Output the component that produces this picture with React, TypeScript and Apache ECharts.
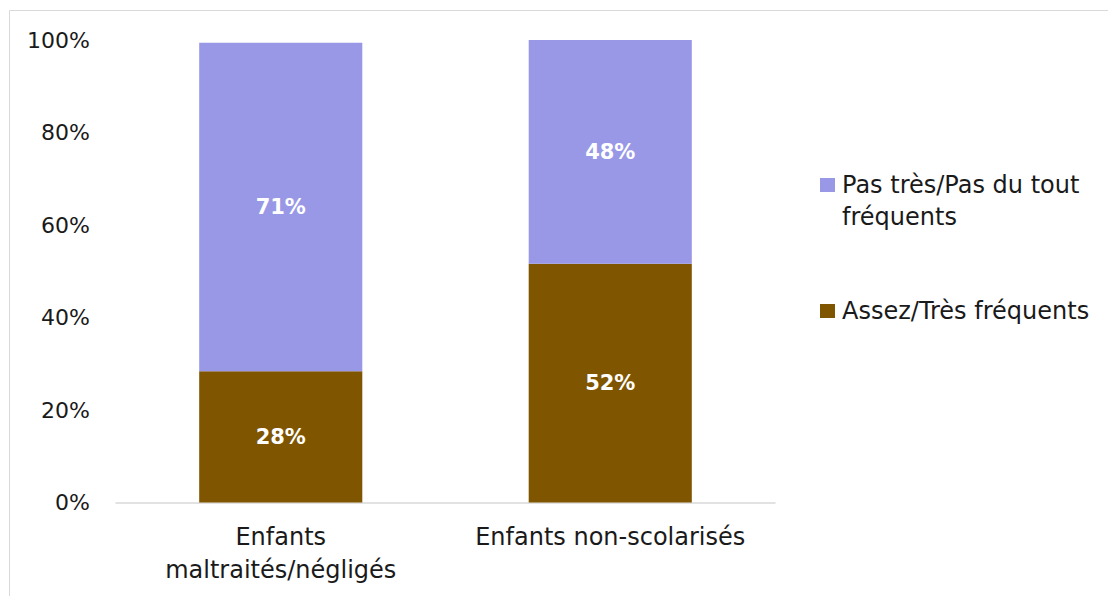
import React, { useEffect, useRef } from "react";
import * as echarts from "echarts";

const categories = ["Enfants\nmaltraités/négligés", "Enfants non-scolarisés"];
const seriesNames = ["Assez/Très fréquents", "Pas très/Pas du tout fréquents"];
const assezValues = [28.4, 51.6];
const pasValues = [71.0, 48.4];
const yTicks = [0, 20, 40, 60, 80, 100];
const colors = ["#7F5500", "#9898E6"];

const FONT = "DejaVu Sans";

export default function App() {
  const ref = useRef<HTMLDivElement>(null);
  useEffect(() => {
    if (!ref.current) return;
    const chart = echarts.init(ref.current, undefined, { renderer: "svg" });
    const labelCfg = {
      show: true,
      position: "inside",
      color: "#fff",
      fontWeight: "bold",
      fontSize: 21,
      fontFamily: FONT,
      padding: [6, 0, 0, 0],
      formatter: (p: any) => Math.round(p.value) + "%",
    };
    chart.setOption({
      animation: false,
      backgroundColor: "#fff",
      textStyle: { fontFamily: FONT },
      graphic: [
        {
          type: "rect",
          shape: { x: 9.5, y: 10.5, width: 1200, height: 700 },
          style: { fill: "none", stroke: "#d9d9d9", lineWidth: 1 },
          silent: true,
          z: -1,
        },
      ],
      grid: { left: 116, right: 333, top: 40, bottom: 93.5, containLabel: false },
      xAxis: {
        type: "category",
        data: categories,
        axisLine: { show: true, lineStyle: { color: "#d9d9d9", width: 1.5 } },
        axisTick: { show: false },
        axisLabel: {
          color: "#1a1a1a",
          fontSize: 24,
          fontFamily: FONT,
          lineHeight: 33,
          margin: 18,
          interval: 0,
        },
      },
      yAxis: {
        type: "value",
        min: yTicks[0],
        max: yTicks[yTicks.length - 1],
        interval: 20,
        splitLine: { show: false },
        axisLine: { show: false },
        axisTick: { show: false },
        axisLabel: {
          color: "#1a1a1a",
          fontSize: 22,
          fontFamily: FONT,
          margin: 26,
          formatter: (v: number) => v + "%",
        },
      },
      legend: {
        orient: "vertical",
        left: 815,
        top: 132,
        itemWidth: 15,
        itemHeight: 14,
        itemGap: 62,
        icon: "rect",
        textStyle: { fontSize: 24, fontFamily: FONT, color: "#1a1a1a", lineHeight: 32, padding: [0, 0, 0, 2] },
        data: [{ name: seriesNames[1] }, { name: seriesNames[0] }],
        formatter: (n: string) =>
          n === seriesNames[1] ? " \nPas très/Pas du tout\nfréquents" : n,
      },
      series: [
        {
          name: seriesNames[0],
          type: "bar",
          stack: "total",
          data: assezValues,
          barWidth: "49.5%",
          itemStyle: { color: colors[0] },
          label: labelCfg,
        },
        {
          name: seriesNames[1],
          type: "bar",
          stack: "total",
          data: pasValues,
          barWidth: "49.5%",
          itemStyle: { color: colors[1] },
          label: labelCfg,
        },
      ],
    });
    return () => chart.dispose();
  }, []);
  return (
    <div
      ref={ref}
      style={{ position: "fixed", left: 0, top: 0, width: 1108, height: 596 }}
    />
  );
}
